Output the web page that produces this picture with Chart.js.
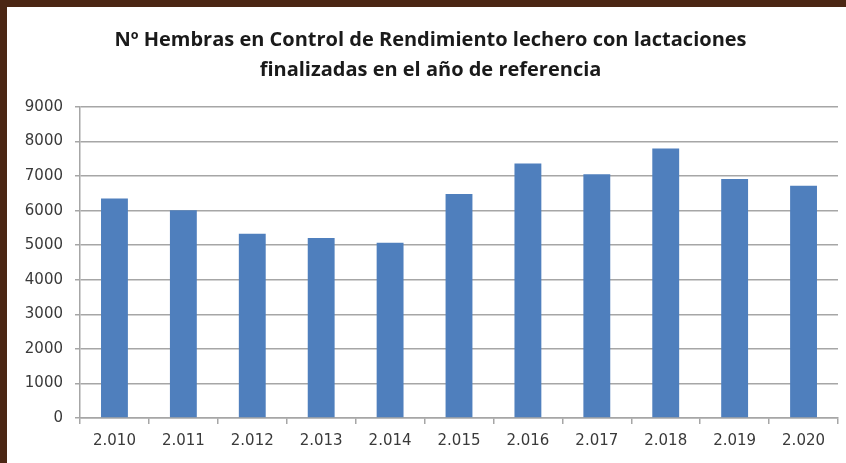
<!DOCTYPE html>
<html>
<head>
<meta charset="utf-8">
<script src="https://cdn.jsdelivr.net/npm/chart.js@4/dist/chart.umd.min.js"></script>
<style>
  html, body { margin: 0; padding: 0; background: #fff; }
  body { width: 846px; height: 463px; position: relative; overflow: hidden; }
  .edge { position: absolute; background: #4b2714; }
  #edgeTop { left: 0; top: 0; width: 846px; height: 7px; }
  #edgeLeft { left: 0; top: 0; width: 7px; height: 463px; }
  #edgeRight { position: absolute; right: 0; top: 7px; width: 6px; height: 456px; background: #fff; z-index: 5; }
  #wrap { position: absolute; left: 7px; top: 7px; width: 839px; height: 456px; }
</style>
</head>
<body>
<div class="edge" id="edgeTop"></div>
<div class="edge" id="edgeLeft"></div>
<div id="wrap"><canvas id="chart"></canvas></div>
<div id="edgeRight"></div>
<script>
// years shown on the x axis
var years = ['2.010', '2.011', '2.012', '2.013', '2.014', '2.015', '2.016', '2.017', '2.018', '2.019', '2.020'];
// number of females
var hembras = [6350, 6010, 5335, 5210, 5075, 6480, 7365, 7055, 7800, 6915, 6720];
var titleLines = ['Nº Hembras en Control de Rendimiento lechero con lactaciones', 'finalizadas en el año de referencia'];

var gridGray = '#a6a6a6';
var tickFont = { family: 'DejaVu Sans', size: 15 };

new Chart(document.getElementById('chart'), {
  type: 'bar',
  data: {
    labels: years,
    datasets: [{
      data: hembras,
      backgroundColor: '#4f7fbd',
      borderWidth: 0,
      categoryPercentage: 1,
      barPercentage: 0.39
    }]
  },
  options: {
    responsive: true,
    maintainAspectRatio: false,
    animation: false,
    // left padding pushes the title a bit right, y axis width is reduced to match
    layout: { padding: { left: 16, right: 8, top: 0, bottom: 0 } },
    plugins: {
      legend: { display: false },
      tooltip: { enabled: false },
      title: {
        display: true,
        text: titleLines,
        color: '#1a1a1a',
        font: { family: 'Open Sans', size: 20, weight: 'bold', lineHeight: 30 / 20 },
        padding: { top: 18, bottom: 22 }
      }
    },
    scales: {
      x: {
        grid: { display: true, drawOnChartArea: false, offset: true, color: gridGray, lineWidth: 1.5, tickLength: 6 },
        border: { display: true, color: gridGray, width: 1.5 },
        ticks: { color: '#3a3a3a', font: tickFont, padding: 8, maxRotation: 0 },
        afterFit: function(scale) { scale.height = 45; }
      },
      y: {
        min: 0,
        max: 9000,
        grid: { color: gridGray, lineWidth: 1.5, tickLength: 5 },
        border: { display: true, color: gridGray, width: 1.5 },
        ticks: {
          stepSize: 1000, color: '#3a3a3a', font: tickFont, padding: 12,
          callback: function(v) { return String(v); }
        },
        afterFit: function(scale) { scale.width = 57; }
      }
    }
  }
});
</script>
</body>
</html>
